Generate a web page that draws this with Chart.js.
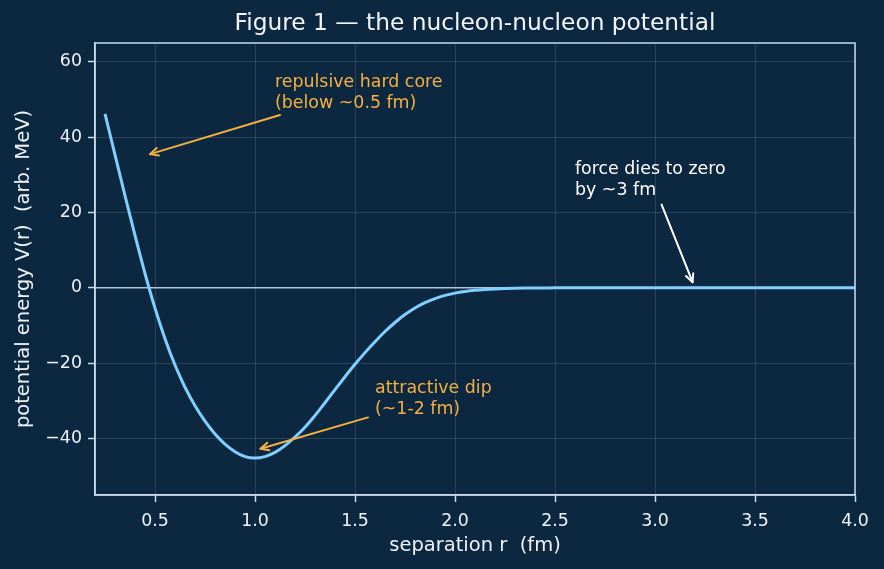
<!DOCTYPE html>
<html><head><meta charset="utf-8">
<script src="https://cdn.jsdelivr.net/npm/chart.js@4.4.0/dist/chart.umd.min.js"></script>
<style>html,body{margin:0;padding:0;background:#0c2740;}#wrap{width:884px;height:569px;}</style>
</head><body><div id="wrap"><canvas id="c" width="884" height="569"></canvas></div>
<script>
// ---- data ----
const separation = [0.25,0.30,0.35,0.40,0.45,0.50,0.55,0.60,0.65,0.70,0.75,0.80,0.85,0.90,0.95,
  1.00,1.05,1.10,1.15,1.20,1.25,1.30,1.35,1.40,1.45,1.50,1.55,1.60,1.65,1.70,1.75,1.80,1.85,1.90,1.95,
  2.00,2.05,2.10,2.15,2.20,2.25,2.30,2.35,2.40,2.45,2.50,
  2.6,2.7,2.8,2.9,3.0,3.1,3.2,3.3,3.4,3.5,3.6,3.7,3.8,3.9,4.0];
const potential = [46.2,35.3,24.5,13.9,3.8,-5.4,-13.5,-20.5,-26.4,-31.3,-35.4,-38.8,-41.5,-43.5,-44.8,
  -45.2,-44.8,-43.7,-41.9,-39.6,-37.0,-33.9,-30.5,-27.0,-23.6,-20.3,-17.2,-14.3,-11.6,-9.2,-7.1,-5.35,-3.95,-2.85,-2.0,
  -1.4,-0.97,-0.66,-0.44,-0.28,-0.17,-0.1,-0.06,-0.035,-0.02,-0.01,
  0,0,0,0,0,0,0,0,0,0,0,0,0,0,0];
const xTickValues = [0.5,1.0,1.5,2.0,2.5,3.0,3.5,4.0];
const yTickValues = [-40,-20,0,20,40,60];
const xRange = [0.2, 4.0];
const yRange = [-55, 65];
const titleText = 'Figure 1 \u2014 the nucleon-nucleon potential';
const xTitle = 'separation r  (fm)';
const yTitle = 'potential energy V(r)  (arb. MeV)';

// ---- annotations (text anchor, arrow start, arrow tip in data units) ----
const ORANGE = '#f5b041';
const notes = [
  {lines:['repulsive hard core','(below ~0.5 fm)'], at:[1.1,54.4], from:[1.125,45.9], to:[0.475,35.5], color:ORANGE},
  {lines:['attractive dip','(~1-2 fm)'], at:[1.6,-26.7], from:[1.565,-34.4], to:[1.0275,-42.7], color:ORANGE},
  {lines:['force dies to zero','by ~3 fm'], at:[2.6,31.5], from:[3.033,22.1], to:[3.188,1.5], color:'#ffffff'}
];

const BG = '#0c2740';
const FRAME = '#c9dcee';
const GRID = 'rgba(255,255,255,0.13)';
const TXT = '#eef3f8';
const FONT = "'DejaVu Sans', sans-serif";

const bgPlugin = {
  id:'bg',
  beforeDraw(chart){
    const c = chart.ctx; c.save(); c.fillStyle = BG; c.fillRect(0,0,chart.width,chart.height); c.restore();
  }
};
const framePlugin = {
  id:'frame',
  beforeDatasetsDraw(chart){
    const {ctx, chartArea:a, scales} = chart;
    ctx.save();
    const y0 = scales.y.getPixelForValue(0);
    ctx.strokeStyle = 'rgba(200,222,240,0.85)'; ctx.lineWidth = 1.5;
    ctx.beginPath(); ctx.moveTo(a.left,y0); ctx.lineTo(a.right,y0); ctx.stroke();
    ctx.restore();
  },
  afterDraw(chart){
    const {ctx, chartArea:a, scales} = chart;
    ctx.save();
    ctx.strokeStyle = FRAME; ctx.lineWidth = 1.5;
    ctx.strokeRect(a.left, a.top, a.right-a.left, a.bottom-a.top);
    // title, centred over the plot area
    ctx.fillStyle = '#f2f6fa';
    ctx.font = "23.3px " + FONT;
    ctx.textAlign = 'center'; ctx.textBaseline = 'middle';
    ctx.fillText(titleText, (a.left + a.right)/2, 24);
    // annotations
    ctx.font = "17.4px " + FONT;
    ctx.textBaseline = 'middle'; ctx.textAlign = 'left';
    for (const n of notes){
      const tx = scales.x.getPixelForValue(n.at[0]);
      const ty = scales.y.getPixelForValue(n.at[1]);
      ctx.fillStyle = n.color;
      n.lines.forEach((l,i)=>ctx.fillText(l, tx, ty + i*21));
      const x1 = scales.x.getPixelForValue(n.from[0]), y1 = scales.y.getPixelForValue(n.from[1]);
      const x2 = scales.x.getPixelForValue(n.to[0]), y2 = scales.y.getPixelForValue(n.to[1]);
      ctx.strokeStyle = n.color; ctx.lineWidth = 2; ctx.lineCap='round'; ctx.lineJoin='round';
      ctx.beginPath(); ctx.moveTo(x1,y1); ctx.lineTo(x2,y2); ctx.stroke();
      const ang = Math.atan2(y2-y1, x2-x1), hl = 9, hw = 0.45;
      ctx.beginPath();
      ctx.moveTo(x2 - hl*Math.cos(ang-hw), y2 - hl*Math.sin(ang-hw));
      ctx.lineTo(x2,y2);
      ctx.lineTo(x2 - hl*Math.cos(ang+hw), y2 - hl*Math.sin(ang+hw));
      ctx.stroke();
    }
    ctx.restore();
  }
};

const points = separation.map((r,i)=>({x:r, y:potential[i]}));

new Chart(document.getElementById('c'), {
  type:'line',
  data:{ datasets:[{
    label:'V(r)', data:points, borderColor:'#80cfff', borderWidth:3,
    pointRadius:0, fill:false, cubicInterpolationMode:'monotone'
  }]},
  options:{
    responsive:false, animation:false, devicePixelRatio:1,
    layout:{padding:{top:43,right:29,left:0,bottom:0}},
    plugins:{
      legend:{display:false}, tooltip:{enabled:false}, title:{display:false}
    },
    scales:{
      x:{type:'linear', min:xRange[0], max:xRange[1],
        afterBuildTicks(s){ s.ticks = xTickValues.map(v=>({value:v})); },
        afterFit(s){ s.height = 74; },
        ticks:{color:TXT, font:{family:FONT,size:17.4}, padding:9, maxRotation:0,
          callback:v=>Number(v).toFixed(1)},
        grid:{color:GRID, lineWidth:1, tickLength:7, tickColor:FRAME, tickWidth:1.5},
        border:{display:true, color:FRAME, width:1.5},
        title:{display:true, text:xTitle, color:TXT, font:{family:FONT,size:19.5}, padding:{top:0,bottom:11}}
      },
      y:{type:'linear', min:yRange[0], max:yRange[1],
        afterBuildTicks(s){ s.ticks = yTickValues.map(v=>({value:v})); },
        afterFit(s){ s.width = 95; },
        ticks:{color:TXT, font:{family:FONT,size:17.4}, padding:6,
          callback:v=> v<0 ? '\u2212'+Math.abs(v) : String(v)},
        grid:{color:GRID, lineWidth:1, tickLength:7, tickColor:FRAME, tickWidth:1.5},
        border:{display:true, color:FRAME, width:1.5},
        title:{display:true, text:yTitle, color:TXT, font:{family:FONT,size:19.5}, padding:{top:12,bottom:0}}
      }
    }
  },
  plugins:[bgPlugin, framePlugin]
});
</script></body></html>
